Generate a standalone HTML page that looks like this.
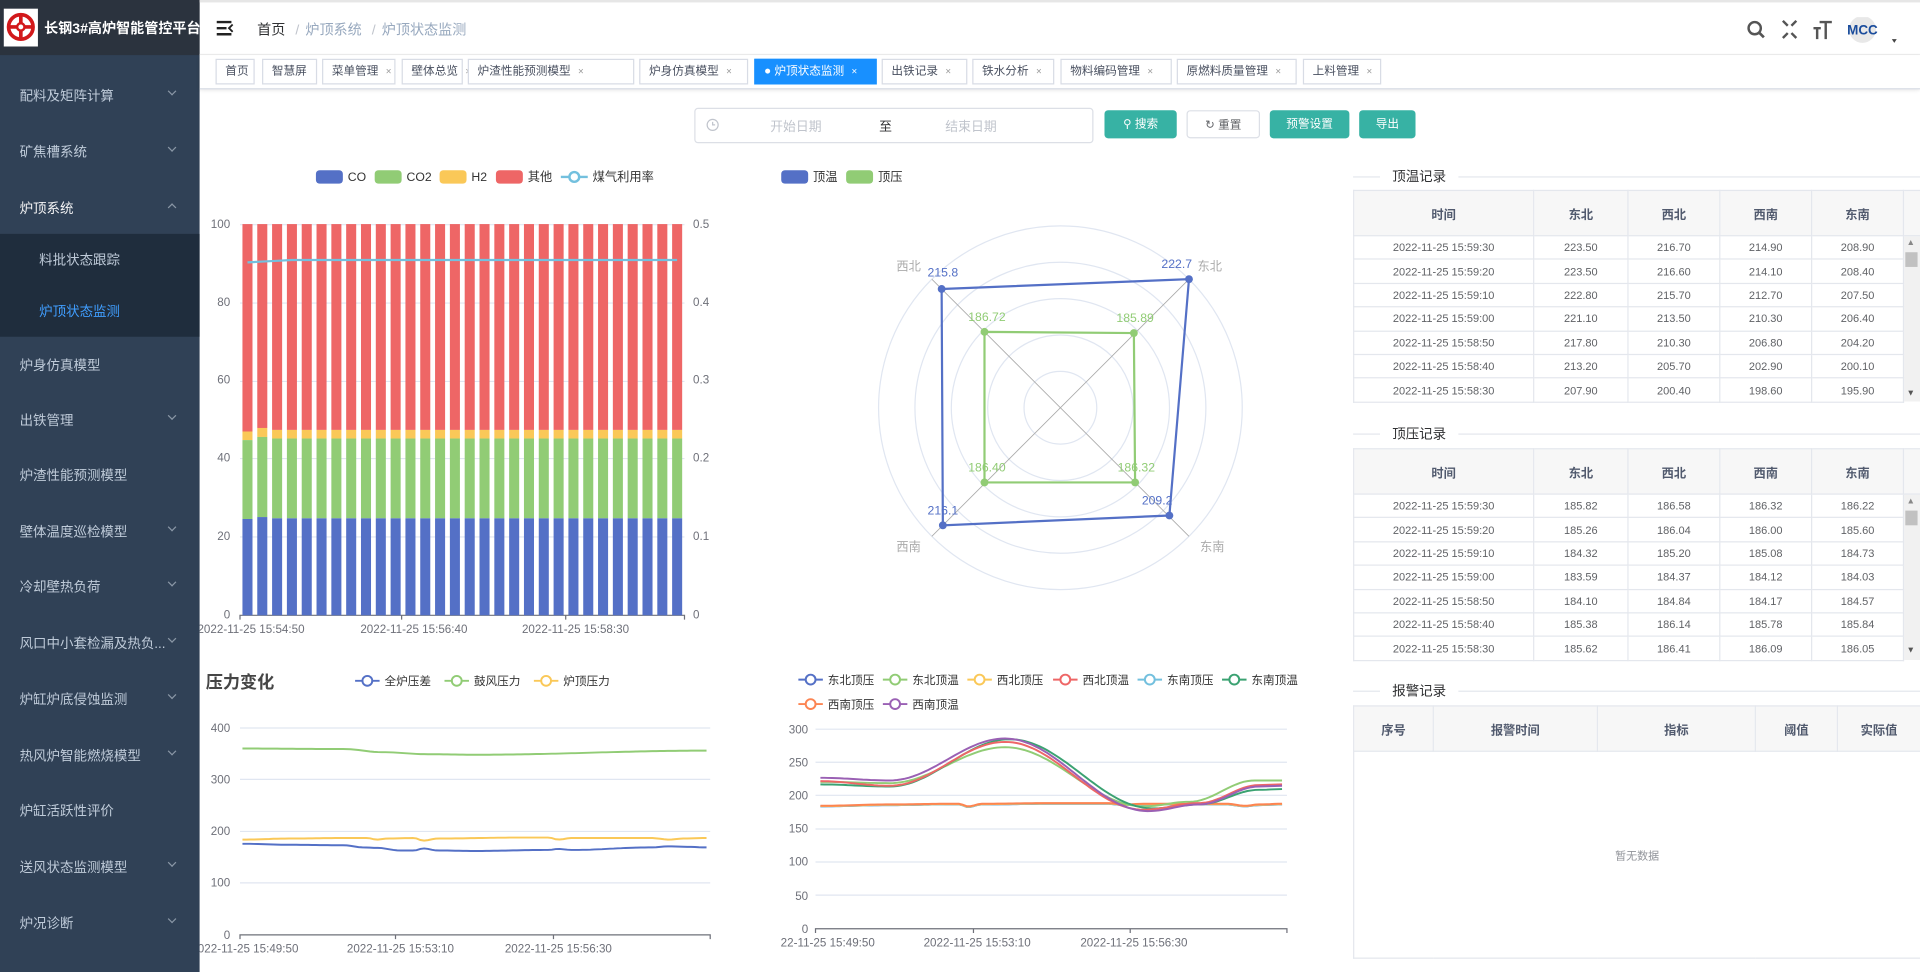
<!DOCTYPE html>
<html><head><meta charset="utf-8">
<style>
*{margin:0;padding:0;box-sizing:border-box}
html,body{width:1920px;height:972px;overflow:hidden;background:#fff}
body{font-family:"Liberation Sans","Noto Sans CJK SC",sans-serif;color:#303133}
#w{position:absolute;left:0;top:0;width:1568px;height:794px;transform:scale(1.22449);transform-origin:0 0;overflow:hidden}
.a{position:absolute}
#side{left:0;top:0;width:163px;height:794px;background:#304156}
#logo{left:0;top:0;width:163px;height:45px;background:#2b333e}
.mi{position:absolute;left:16px;color:#bfcbd9;font-size:11px;white-space:nowrap;transform:translateY(-50%)}
.ar{position:absolute;left:138px;width:5px;height:5px;border-right:1px solid #8a97a6;border-bottom:1px solid #8a97a6;transform:rotate(45deg)}
.tab{position:absolute;top:48px;height:21px;border:1px solid #d8dce5;font-size:9.5px;color:#495060;line-height:19px;padding-left:7px;white-space:nowrap;background:#fff}
.tab i{font-style:normal;color:#999;font-size:8px;margin-left:6px}
.btn{position:absolute;top:90px;height:23px;border-radius:3px;font-size:9.5px;line-height:23px;text-align:center;color:#fff;background:#37b2a4}
table{border-collapse:collapse;table-layout:fixed;position:absolute;left:1105px;width:463px;font-size:9px;color:#606266}
td,th{border:1px solid #e4e7ed;text-align:center;white-space:nowrap;overflow:hidden}
th{background:#f7f7f7;color:#515a6e;font-weight:bold;font-size:10px;height:37px}
td{height:19.4px}
.st{position:absolute;left:1105px;width:463px;height:1px;background:#e4e7ed}
.stt{position:absolute;left:1127px;background:#fff;padding:0 10px;font-size:11px;color:#303133;transform:translateY(-50%)}
.sb{position:absolute;left:1554px;width:14px;background:#f1f1f1}
svg text{font-family:"Liberation Sans","Noto Sans CJK SC",sans-serif}
</style></head><body>
<div id="w">
<div id="side" class="a"></div>
<div id="logo" class="a">
  <svg class="a" style="left:3px;top:7px" width="28" height="31" viewBox="0 0 28 31"><rect width="28" height="31" fill="#fff"/><circle cx="14" cy="15" r="10" fill="none" stroke="#d2191b" stroke-width="3"/><path d="M4 15h20M14 5v20" stroke="#d2191b" stroke-width="3"/><circle cx="14" cy="15" r="3" fill="#fff" stroke="#d2191b" stroke-width="2"/></svg>
  <div class="a" style="left:36px;top:15px;color:#fff;font-weight:bold;font-size:11.5px;white-space:nowrap">长钢3#高炉智能管控平台</div>
</div>
<div class="mi" style="top:78px">配料及矩阵计算</div><div class="ar" style="top:72px"></div>
<div class="mi" style="top:124px">矿焦槽系统</div><div class="ar" style="top:118px"></div>
<div class="mi" style="top:170px;color:#f4f4f5">炉顶系统</div><div class="ar" style="top:167px;transform:rotate(225deg)"></div>
<div class="a" style="left:0;top:191px;width:163px;height:84px;background:#1f2d3d"></div>
<div class="mi" style="top:212px;left:32px">料批状态跟踪</div>
<div class="mi" style="top:254px;left:32px;color:#409eff">炉顶状态监测</div>
<div class="mi" style="top:298px">炉身仿真模型</div>
<div class="mi" style="top:343px">出铁管理</div><div class="ar" style="top:337px"></div>
<div class="mi" style="top:388px">炉渣性能预测模型</div>
<div class="mi" style="top:434px">壁体温度巡检模型</div><div class="ar" style="top:428px"></div>
<div class="mi" style="top:479px">冷却壁热负荷</div><div class="ar" style="top:473px"></div>
<div class="mi" style="top:525px">风口中小套检漏及热负...</div><div class="ar" style="top:519px"></div>
<div class="mi" style="top:571px">炉缸炉底侵蚀监测</div><div class="ar" style="top:565px"></div>
<div class="mi" style="top:617px">热风炉智能燃烧模型</div><div class="ar" style="top:611px"></div>
<div class="mi" style="top:662px">炉缸活跃性评价</div>
<div class="mi" style="top:708px">送风状态监测模型</div><div class="ar" style="top:702px"></div>
<div class="mi" style="top:754px">炉况诊断</div><div class="ar" style="top:748px"></div>

<!-- header -->
<div class="a" style="left:163px;top:0;width:1405px;height:2px;background:#e6e6e6"></div>
<div class="a" style="left:163px;top:44px;width:1405px;height:1px;background:#eee"></div>
<svg class="a" style="left:176px;top:16px" width="16" height="14"><path d="M1 2h12M1 7h8M1 12h12" stroke="#222" stroke-width="2"/><path d="M14 4l-3 3 3 3" fill="none" stroke="#222" stroke-width="1.5"/></svg>
<div class="a" style="left:210px;top:16px;font-size:11.5px;white-space:nowrap;color:#303133">首页 <span style="color:#c0c4cc;margin:0 5px">/</span><span style="color:#97a8be">炉顶系统</span> <span style="color:#c0c4cc;margin:0 5px">/</span><span style="color:#97a8be">炉顶状态监测</span></div>
<svg class="a" style="left:1420px;top:14px" width="140" height="30">
 <circle cx="13" cy="9" r="5" fill="none" stroke="#555" stroke-width="2"/><path d="M16.5 12.5l4 4" stroke="#555" stroke-width="2.2"/>
 <path d="M36 3l4 4M47 3l-4 4M36 17l4-4M47 17l-4-4" stroke="#555" stroke-width="2"/>
 <path d="M61 9h6M64 9v9M66 4h10M71 4v14" stroke="#555" stroke-width="2"/>
 <circle cx="101" cy="10" r="11" fill="#e8e8e8"/><text x="101" y="14" text-anchor="middle" font-size="11" font-weight="bold" fill="#1a4c9c">MCC</text>
 <path d="M125 18l4 0-2 3z" fill="#444"/>
</svg>
<!-- tabs -->
<div class="a" style="left:163px;top:45px;width:1405px;height:28px;border-bottom:1px solid #d8dce5;box-shadow:0 1px 3px rgba(0,0,0,.12)"></div>
<div class="tab" style="left:176px;width:32px">首页</div>
<div class="tab" style="left:214px;width:45px">智慧屏</div>
<div class="tab" style="left:263px;width:60px">菜单管理<i>×</i></div>
<div class="tab" style="left:328px;width:50px">壁体总览<i>×</i></div>
<div class="tab" style="left:382px;width:136px">炉渣性能预测模型<i>×</i></div>
<div class="tab" style="left:522px;width:89px">炉身仿真模型<i>×</i></div>
<div class="tab" style="left:616px;width:100px;background:#1890ff;border-color:#1890ff;color:#fff">● 炉顶状态监测<i style="color:#fff">×</i></div>
<div class="tab" style="left:720px;width:70px">出铁记录<i>×</i></div>
<div class="tab" style="left:794px;width:67px">铁水分析<i>×</i></div>
<div class="tab" style="left:866px;width:91px">物料编码管理<i>×</i></div>
<div class="tab" style="left:961px;width:98px">原燃料质量管理<i>×</i></div>
<div class="tab" style="left:1064px;width:64px">上料管理<i>×</i></div>
<!-- search -->
<div class="a" style="left:567px;top:88px;width:326px;height:29px;border:1px solid #dcdfe6;border-radius:3px"></div>
<svg class="a" style="left:576px;top:96px" width="12" height="12"><circle cx="6" cy="6" r="4.5" fill="none" stroke="#c0c4cc"/><path d="M6 3.5v2.5h2" fill="none" stroke="#c0c4cc"/></svg>
<div class="a" style="left:629px;top:96px;font-size:10.5px;color:#c0c4cc">开始日期</div>
<div class="a" style="left:718px;top:96px;font-size:10.5px;color:#303133">至</div>
<div class="a" style="left:772px;top:96px;font-size:10.5px;color:#c0c4cc">结束日期</div>
<div class="btn" style="left:902px;width:59px">⚲ 搜索</div>
<div class="btn" style="left:969px;width:60px;background:#fff;border:1px solid #dcdfe6;color:#606266">↻ 重置</div>
<div class="btn" style="left:1037px;width:65px">预警设置</div>
<div class="btn" style="left:1110px;width:46px">导出</div>

<!-- tables -->
<div class="st" style="top:144px"></div><div class="stt" style="top:144px">顶温记录</div>
<table style="top:155px"><colgroup><col style="width:147px"><col style="width:77px"><col style="width:75px"><col style="width:75px"><col style="width:75px"><col style="width:14px"></colgroup>
<tr><th>时间</th><th>东北</th><th>西北</th><th>西南</th><th>东南</th><th style="background:#f7f7f7"></th></tr>
<tr><td>2022-11-25 15:59:30</td><td>223.50</td><td>216.70</td><td>214.90</td><td>208.90</td><td rowspan="7" style="background:#f1f1f1;border:none"></td></tr>
<tr><td>2022-11-25 15:59:20</td><td>223.50</td><td>216.60</td><td>214.10</td><td>208.40</td></tr>
<tr><td>2022-11-25 15:59:10</td><td>222.80</td><td>215.70</td><td>212.70</td><td>207.50</td></tr>
<tr><td>2022-11-25 15:59:00</td><td>221.10</td><td>213.50</td><td>210.30</td><td>206.40</td></tr>
<tr><td>2022-11-25 15:58:50</td><td>217.80</td><td>210.30</td><td>206.80</td><td>204.20</td></tr>
<tr><td>2022-11-25 15:58:40</td><td>213.20</td><td>205.70</td><td>202.90</td><td>200.10</td></tr>
<tr><td>2022-11-25 15:58:30</td><td>207.90</td><td>200.40</td><td>198.60</td><td>195.90</td></tr>
</table>
<div class="a" style="left:1557px;top:195px;font-size:7px;color:#888">▲</div>
<div class="a" style="left:1556px;top:206px;width:10px;height:12px;background:#c1c1c1"></div>
<div class="a" style="left:1557px;top:318px;font-size:7px;color:#555">▼</div>

<div class="st" style="top:354px"></div><div class="stt" style="top:354px">顶压记录</div>
<table style="top:366px"><colgroup><col style="width:147px"><col style="width:77px"><col style="width:75px"><col style="width:75px"><col style="width:75px"><col style="width:14px"></colgroup>
<tr><th>时间</th><th>东北</th><th>西北</th><th>西南</th><th>东南</th><th></th></tr>
<tr><td>2022-11-25 15:59:30</td><td>185.82</td><td>186.58</td><td>186.32</td><td>186.22</td><td rowspan="7" style="background:#f1f1f1;border:none"></td></tr>
<tr><td>2022-11-25 15:59:20</td><td>185.26</td><td>186.04</td><td>186.00</td><td>185.60</td></tr>
<tr><td>2022-11-25 15:59:10</td><td>184.32</td><td>185.20</td><td>185.08</td><td>184.73</td></tr>
<tr><td>2022-11-25 15:59:00</td><td>183.59</td><td>184.37</td><td>184.12</td><td>184.03</td></tr>
<tr><td>2022-11-25 15:58:50</td><td>184.10</td><td>184.84</td><td>184.17</td><td>184.57</td></tr>
<tr><td>2022-11-25 15:58:40</td><td>185.38</td><td>186.14</td><td>185.78</td><td>185.84</td></tr>
<tr><td>2022-11-25 15:58:30</td><td>185.62</td><td>186.41</td><td>186.09</td><td>186.05</td></tr>
</table>
<div class="a" style="left:1557px;top:406px;font-size:7px;color:#888">▲</div>
<div class="a" style="left:1556px;top:417px;width:10px;height:12px;background:#c1c1c1"></div>
<div class="a" style="left:1557px;top:528px;font-size:7px;color:#555">▼</div>

<div class="st" style="top:564px"></div><div class="stt" style="top:564px">报警记录</div>
<table style="top:576px"><colgroup><col style="width:65px"><col style="width:134px"><col style="width:129px"><col style="width:67px"><col style="width:68px"></colgroup>
<tr><th style="height:35px">序号</th><th>报警时间</th><th>指标</th><th>阈值</th><th>实际值</th></tr>
<tr><td colspan="5" style="height:169px;color:#909399">暂无数据</td></tr>
</table>

<svg id="ch" class="a" style="left:0;top:0" width="1568" height="794">
 <defs><clipPath id="cl"><rect x="163" y="0" width="1405" height="794"/></clipPath></defs>
 <!-- top-left legend -->
 <g font-size="10" fill="#333">
  <rect x="258" y="139" width="22" height="11" rx="3" fill="#5470c6"/><text x="284" y="148">CO</text>
  <rect x="306" y="139" width="22" height="11" rx="3" fill="#91cc75"/><text x="332" y="148">CO2</text>
  <rect x="359" y="139" width="22" height="11" rx="3" fill="#fac858"/><text x="385" y="148">H2</text>
  <rect x="405" y="139" width="22" height="11" rx="3" fill="#ee6666"/><text x="431" y="148">其他</text>
  <path d="M458 144.5h22" stroke="#73c0de" stroke-width="2"/><circle cx="469" cy="144.5" r="4" fill="#fff" stroke="#73c0de" stroke-width="2"/><text x="484" y="148">煤气利用率</text>
  <rect x="638" y="139" width="22" height="11" rx="3" fill="#5470c6"/><text x="664" y="148">顶温</text>
  <rect x="691" y="139" width="22" height="11" rx="3" fill="#91cc75"/><text x="717" y="148">顶压</text>
 </g>
 <g id="bargrid" stroke="#e0e6f1" stroke-width="1"></g>
 <g id="bars"></g>
 <g font-size="9.5" fill="#6e7079">
  <text x="188" y="186" text-anchor="end">100</text><text x="188" y="250" text-anchor="end">80</text><text x="188" y="313" text-anchor="end">60</text><text x="188" y="377" text-anchor="end">40</text><text x="188" y="441" text-anchor="end">20</text><text x="188" y="505" text-anchor="end">0</text>
  <text x="566" y="186">0.5</text><text x="566" y="250">0.4</text><text x="566" y="313">0.3</text><text x="566" y="377">0.2</text><text x="566" y="441">0.1</text><text x="566" y="505">0</text>
  <g clip-path="url(#cl)" text-anchor="middle"><text x="205" y="517">2022-11-25 15:54:50</text><text x="338" y="517">2022-11-25 15:56:40</text><text x="470" y="517">2022-11-25 15:58:30</text></g>
 </g>
 <!-- radar -->
 <g fill="none" stroke="#e0e6f1" stroke-width="1">
  <circle cx="866" cy="333" r="148.5"/><circle cx="866" cy="333" r="118.8"/><circle cx="866" cy="333" r="89.1"/><circle cx="866" cy="333" r="59.4"/><circle cx="866" cy="333" r="29.7"/>
 </g>
 <path d="M761 228L971 438M971 228L761 438" stroke="#aaa" stroke-width="0.7"/>
 <g font-size="10" fill="#aaa" text-anchor="middle"><text x="742" y="221">西北</text><text x="988" y="221">东北</text><text x="742" y="450">西南</text><text x="990" y="450">东南</text></g>
 <path d="M769 236L971 228L955 421L770 429Z" fill="none" stroke="#5470c6" stroke-width="1.8"/>
 <g fill="#5470c6"><circle cx="769" cy="236" r="3.2"/><circle cx="971" cy="228" r="3.2"/><circle cx="955" cy="421" r="3.2"/><circle cx="770" cy="429" r="3.2"/></g>
 <path d="M804 271L926 272L927 394L804 394Z" fill="none" stroke="#91cc75" stroke-width="1.8"/>
 <g fill="#91cc75"><circle cx="804" cy="271" r="3.2"/><circle cx="926" cy="272" r="3.2"/><circle cx="927" cy="394" r="3.2"/><circle cx="804" cy="394" r="3.2"/></g>
 <g font-size="10" text-anchor="middle">
  <g fill="#5470c6"><text x="770" y="226">215.8</text><text x="961" y="219">222.7</text><text x="945" y="412">209.2</text><text x="770" y="420">216.1</text></g>
  <g fill="#91cc75"><text x="806" y="262">186.72</text><text x="927" y="263">185.89</text><text x="928" y="385">186.32</text><text x="806" y="385">186.40</text></g>
 </g>
 <!-- bottom left -->
 <text x="168" y="562" font-size="14" font-weight="bold" fill="#464646">压力变化</text>
 <g font-size="9.5" fill="#333">
  <path d="M290 556h20" stroke="#5470c6" stroke-width="1.6"/><circle cx="300" cy="556" r="4" fill="#fff" stroke="#5470c6" stroke-width="1.6"/><text x="314" y="559.5">全炉压差</text>
  <path d="M363 556h20" stroke="#91cc75" stroke-width="1.6"/><circle cx="373" cy="556" r="4" fill="#fff" stroke="#91cc75" stroke-width="1.6"/><text x="387" y="559.5">鼓风压力</text>
  <path d="M436 556h20" stroke="#fac858" stroke-width="1.6"/><circle cx="446" cy="556" r="4" fill="#fff" stroke="#fac858" stroke-width="1.6"/><text x="460" y="559.5">炉顶压力</text>
 </g>
 <g stroke="#e0e6f1"><path d="M196 594.5H580M196 636.5H580M196 679H580M196 721H580"/></g>
 <path d="M196 763.5H580M196 763v4M323 763v4M452 763v4M580 763v4" stroke="#6e7079"/>
 <g font-size="9.5" fill="#6e7079" text-anchor="end"><text x="188" y="598">400</text><text x="188" y="640">300</text><text x="188" y="682">200</text><text x="188" y="724">100</text><text x="188" y="767">0</text></g>
 <g font-size="9.5" fill="#6e7079" text-anchor="middle" clip-path="url(#cl)"><text x="200" y="778">2022-11-25 15:49:50</text><text x="327" y="778">2022-11-25 15:53:10</text><text x="456" y="778">2022-11-25 15:56:30</text></g>
 <g id="lineL" fill="none" stroke-width="1.6"></g>
 <!-- bottom right -->
 <g font-size="9.5" fill="#333" id="legR"></g>
 <g stroke="#e0e6f1"><path d="M666 595.5H1051M666 622.5H1051M666 649.5H1051M666 677H1051M666 704H1051M666 731H1051"/></g>
 <path d="M666 758.5H1051M666 758v4M795 758v4M923 758v4M1051 758v4" stroke="#6e7079"/>
 <g font-size="9.5" fill="#6e7079" text-anchor="end"><text x="660" y="599">300</text><text x="660" y="626">250</text><text x="660" y="653">200</text><text x="660" y="680">150</text><text x="660" y="707">100</text><text x="660" y="735">50</text><text x="660" y="762">0</text></g>
 <g font-size="9.5" fill="#6e7079" text-anchor="middle"><text x="676" y="773">22-11-25 15:49:50</text><text x="798" y="773">2022-11-25 15:53:10</text><text x="926" y="773">2022-11-25 15:56:30</text></g>
 <g id="lineR" fill="none" stroke-width="1.6"></g>
</svg>
<svg class="a" style="left:0;top:0" width="1568" height="794" id="legsvg">
 <g font-size="9.5" fill="#333">
  <g><path d="M652 555h20" stroke="#5470c6" stroke-width="1.6"/><circle cx="662" cy="555" r="4" fill="#fff" stroke="#5470c6" stroke-width="1.6"/><text x="676" y="558.5">东北顶压</text></g>
  <g><path d="M721 555h20" stroke="#91cc75" stroke-width="1.6"/><circle cx="731" cy="555" r="4" fill="#fff" stroke="#91cc75" stroke-width="1.6"/><text x="745" y="558.5">东北顶温</text></g>
  <g><path d="M790 555h20" stroke="#fac858" stroke-width="1.6"/><circle cx="800" cy="555" r="4" fill="#fff" stroke="#fac858" stroke-width="1.6"/><text x="814" y="558.5">西北顶压</text></g>
  <g><path d="M860 555h20" stroke="#ee6666" stroke-width="1.6"/><circle cx="870" cy="555" r="4" fill="#fff" stroke="#ee6666" stroke-width="1.6"/><text x="884" y="558.5">西北顶温</text></g>
  <g><path d="M929 555h20" stroke="#73c0de" stroke-width="1.6"/><circle cx="939" cy="555" r="4" fill="#fff" stroke="#73c0de" stroke-width="1.6"/><text x="953" y="558.5">东南顶压</text></g>
  <g><path d="M998 555h20" stroke="#3ba272" stroke-width="1.6"/><circle cx="1008" cy="555" r="4" fill="#fff" stroke="#3ba272" stroke-width="1.6"/><text x="1022" y="558.5">东南顶温</text></g>
  <g><path d="M652 575h20" stroke="#fc8452" stroke-width="1.6"/><circle cx="662" cy="575" r="4" fill="#fff" stroke="#fc8452" stroke-width="1.6"/><text x="676" y="578.5">西南顶压</text></g>
  <g><path d="M721 575h20" stroke="#9a60b4" stroke-width="1.6"/><circle cx="731" cy="575" r="4" fill="#fff" stroke="#9a60b4" stroke-width="1.6"/><text x="745" y="578.5">西南顶温</text></g>
 </g>
</svg>
</div>
<script>
(function(){
var NS="http://www.w3.org/2000/svg";
function el(p,t,a){var e=document.createElementNS(NS,t);for(var k in a)e.setAttribute(k,a[k]);p.appendChild(e);return e;}
var g=document.getElementById('bargrid');
[183,247,311,374,438].forEach(function(y){el(g,'path',{d:'M196 '+(y+.5)+'H559'});});
el(g,'path',{d:'M196 502.5H559M196 502v4M328 502v4M462 502v4M559 502v4',stroke:'#6e7079'});
var b=document.getElementById('bars');
function Y(v){return 502-v*3.19;}
var pts=[];
for(var i=0;i<30;i++){
 var x=196+i*12.1+2;
 var co=24.7,c2=45.1,h=47.3;
 if(i==0){co=24.5;c2=44.7;h=46.9;} if(i==1){co=25;c2=45.5;h=47.8;}
 el(b,'rect',{x:x,y:Y(100),width:8.2,height:Y(h)-Y(100),fill:'#ee6666'});
 el(b,'rect',{x:x,y:Y(h),width:8.2,height:Y(c2)-Y(h),fill:'#fac858'});
 el(b,'rect',{x:x,y:Y(co),width:8.2,height:Y(0)-Y(co)+0.5,fill:'#5470c6'});
 el(b,'rect',{x:x,y:Y(c2),width:8.2,height:Y(co)-Y(c2),fill:'#91cc75'});
 var u=i<3?0.451+i*0.001:0.454;
 pts.push((x+4.1)+','+(502-u/0.5*319));
}
el(b,'polyline',{points:pts.join(' '),fill:'none',stroke:'#73c0de','stroke-width':1.8});
function interp(keys,t){for(var i=0;i<keys.length-1;i++){var a=keys[i],c=keys[i+1];if(t>=a[0]&&t<=c[0]){var f=(t-a[0])/(c[0]-a[0]);f=(1-Math.cos(Math.PI*f))/2;return a[1]+(c[1]-a[1])*f;}}return keys[keys.length-1][1];}
function line(parent,keys,x0,x1,yf,col){var s=[];for(var k=0;k<=120;k++){var t=k/120;s.push((x0+(x1-x0)*t).toFixed(1)+','+yf(interp(keys,t)).toFixed(1));}el(parent,'polyline',{points:s.join(' '),stroke:col});}
var L=document.getElementById('lineL');function yl(v){return 763-v/400*169;}
line(L,[[0,359],[0.22,358],[0.3,352],[0.4,348],[0.5,347],[1,355]],198,577,yl,'#91cc75');
line(L,[[0,183],[0.1,185],[0.22,186],[0.27,186],[0.29,183],[0.31,185],[0.37,186],[0.39,181],[0.42,185],[0.6,187],[0.66,187],[0.68,183],[0.71,186],[0.88,186],[0.92,183],[0.95,185],[1,186]],198,577,yl,'#fac858');
line(L,[[0,175],[0.1,173],[0.22,172],[0.26,168],[0.29,167],[0.34,162],[0.37,162],[0.39,166],[0.42,162],[0.5,161],[0.66,163],[0.68,165],[0.71,163],[0.88,168],[0.92,170],[0.96,169],[1,168]],198,577,yl,'#5470c6');
var R=document.getElementById('lineR');function yr(v){return 758-v/300*163;}
var pr=[[0,183],[0.15,185],[0.28,186],[0.3,186],[0.32,182],[0.35,186],[0.5,187],[0.62,187],[0.66,185],[0.7,186],[0.88,186],[0.92,183],[0.95,185],[1,186]];
line(R,pr,670,1047,yr,'#5470c6');line(R,pr,670,1047,yr,'#73c0de');line(R,pr.map(function(p){return [p[0],p[1]+0.5]}),670,1047,yr,'#fac858');line(R,pr.map(function(p){return [p[0],p[1]+1]}),670,1047,yr,'#fc8452');
line(R,[[0,220],[0.15,218],[0.4,272],[0.7,183],[0.8,190],[0.94,222],[1,222]],670,1047,yr,'#91cc75');
line(R,[[0,216],[0.15,213],[0.41,284],[0.72,180],[0.82,186],[0.95,208],[1,209]],670,1047,yr,'#3ba272');
line(R,[[0,221],[0.15,214],[0.4,280],[0.7,178],[0.82,188],[0.95,215],[1,216]],670,1047,yr,'#ee6666');
line(R,[[0,226],[0.15,222],[0.4,285],[0.71,176],[0.82,186],[0.95,213],[1,214]],670,1047,yr,'#9a60b4');
})();
</script>
</body></html>
